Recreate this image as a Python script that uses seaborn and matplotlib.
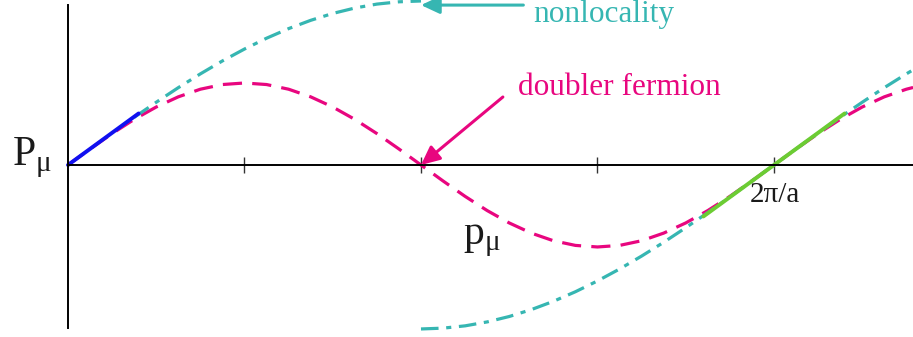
import matplotlib
matplotlib.use("Agg")
import matplotlib.pyplot as plt
import seaborn as sns
import pandas as pd

# momentum p in units of pi/a
p_doubler = [0, 0.0625, 0.125, 0.1875, 0.25, 0.3125, 0.375, 0.4375, 0.5,
             0.5625, 0.625, 0.6875, 0.75, 0.8125, 0.875, 0.9375, 1.0,
             1.0625, 1.125, 1.1875, 1.25, 1.3125, 1.375, 1.4375, 1.5,
             1.5625, 1.625, 1.6875, 1.75, 1.8125, 1.875, 1.9375, 2.0,
             2.0625, 2.125, 2.1875, 2.25, 2.3125, 2.375, 2.394]
P_doubler = [0, 0.195, 0.383, 0.556, 0.707, 0.831, 0.924, 0.981, 1.0,
             0.981, 0.924, 0.831, 0.707, 0.556, 0.383, 0.195, 0,
             -0.195, -0.383, -0.556, -0.707, -0.831, -0.924, -0.981, -1.0,
             -0.981, -0.924, -0.831, -0.707, -0.556, -0.383, -0.195, 0,
             0.195, 0.383, 0.556, 0.707, 0.831, 0.924, 0.945]

p_nonloc1 = [0.1875, 0.25, 0.3125, 0.375, 0.4375, 0.5, 0.5625, 0.625,
             0.6875, 0.75, 0.8125, 0.875, 0.9375, 1.0]
P_nonloc1 = [0.581, 0.765, 0.943, 1.111, 1.269, 1.414, 1.546, 1.663,
             1.764, 1.848, 1.914, 1.962, 1.990, 2.0]

p_nonloc2 = [1.0, 1.0625, 1.125, 1.1875, 1.25, 1.3125, 1.375, 1.4375, 1.5,
             1.5625, 1.625, 1.6875, 1.75, 1.8125, 1.875, 1.9375, 2.0,
             2.0625, 2.125, 2.1875, 2.25, 2.3125, 2.375, 2.394]
P_nonloc2 = [-2.0, -1.990, -1.962, -1.914, -1.848, -1.764, -1.663, -1.546, -1.414,
             -1.269, -1.111, -0.943, -0.765, -0.581, -0.390, -0.196, 0,
             0.196, 0.390, 0.581, 0.765, 0.943, 1.111, 1.160]

p_cont0 = [0, 0.2]
P_cont0 = [0, 0.628]
p_cont2 = [1.8, 2.2]
P_cont2 = [-0.628, 0.628]

CYAN = "#36b6b2"
MAGENTA = "#e8067f"
BLUE = "#1010f0"
GREEN = "#6ccc33"

sns.set_style("white")
plt.rcParams["font.family"] = ["Liberation Serif", "DejaVu Serif"]
plt.rcParams["mathtext.fontset"] = "custom"
plt.rcParams["mathtext.rm"] = "Liberation Serif"

fig = plt.figure(figsize=(9.13, 3.37), dpi=100)
ax = fig.add_axes([0, 0, 1, 1])

sns.lineplot(x=p_doubler, y=P_doubler, ax=ax, color=MAGENTA, lw=2.3,
             linestyle=(0, (6, 3.2)))
sns.lineplot(x=p_nonloc1, y=P_nonloc1, ax=ax, color=CYAN, lw=2.3,
             linestyle=(0, (5.5, 2.4, 1.6, 2.4)))
sns.lineplot(x=p_nonloc2, y=P_nonloc2, ax=ax, color=CYAN, lw=2.3,
             linestyle=(0, (5.5, 2.4, 1.6, 2.4)))
sns.lineplot(x=p_cont0, y=P_cont0, ax=ax, color=BLUE, lw=2.8)
sns.lineplot(x=p_cont2, y=P_cont2, ax=ax, color=GREEN, lw=2.8)

ax.set_xlim(-0.1926, 2.3938)
ax.set_ylim(-2.098, 2.012)

for s in ["top", "right"]:
    ax.spines[s].set_visible(False)
ax.spines["left"].set_position(("data", 0))
ax.spines["bottom"].set_position(("data", 0))
ax.spines["left"].set_bounds(-1.99, 1.95)
ax.spines["bottom"].set_bounds(0, 2.3938)
for s in ["left", "bottom"]:
    ax.spines[s].set_color("black")
    ax.spines[s].set_linewidth(1.4)
ax.set_xticks([0.5, 1.0, 1.5, 2.0])
ax.set_yticks([])
ax.tick_params(axis="x", bottom=True, direction="inout", length=11, width=1.0,
               color="#333333", labelbottom=False)
ax.set_xlabel("")
ax.set_ylabel("")

ax.text(-0.159, 0, r"$\mathrm{P}_{\mathrm{\mu}}$", fontsize=30,
        color="#1a1a1a", ha="left", va="baseline")
ax.text(1.119, -0.963, r"$\mathrm{p}_{\mathrm{\mu}}$", fontsize=30,
        color="#1a1a1a", ha="left", va="baseline")
ax.text(1.932, -0.451, "2\u03c0/a", fontsize=21, color="#1a1a1a",
        ha="left", va="baseline")

ax.text(1.317, 1.744, "nonlocality", fontsize=22.5, color=CYAN,
        ha="left", va="baseline")
ax.annotate("", xy=(1.0, 1.95), xytext=(1.29, 1.95),
            arrowprops=dict(arrowstyle="-|>,head_length=0.75,head_width=0.35",
                            color=CYAN, lw=2.2, mutation_scale=15,
                            shrinkA=0, shrinkB=0))

ax.text(1.275, 0.854, "doubler fermion", fontsize=22.5, color=MAGENTA,
        ha="left", va="baseline")
ax.annotate("", xy=(1.0, 0.0), xytext=(1.232, 0.829),
            arrowprops=dict(arrowstyle="-|>,head_length=0.75,head_width=0.35",
                            color=MAGENTA, lw=2.2, mutation_scale=15,
                            shrinkA=0, shrinkB=0))

fig.savefig("out.png", dpi=100)
